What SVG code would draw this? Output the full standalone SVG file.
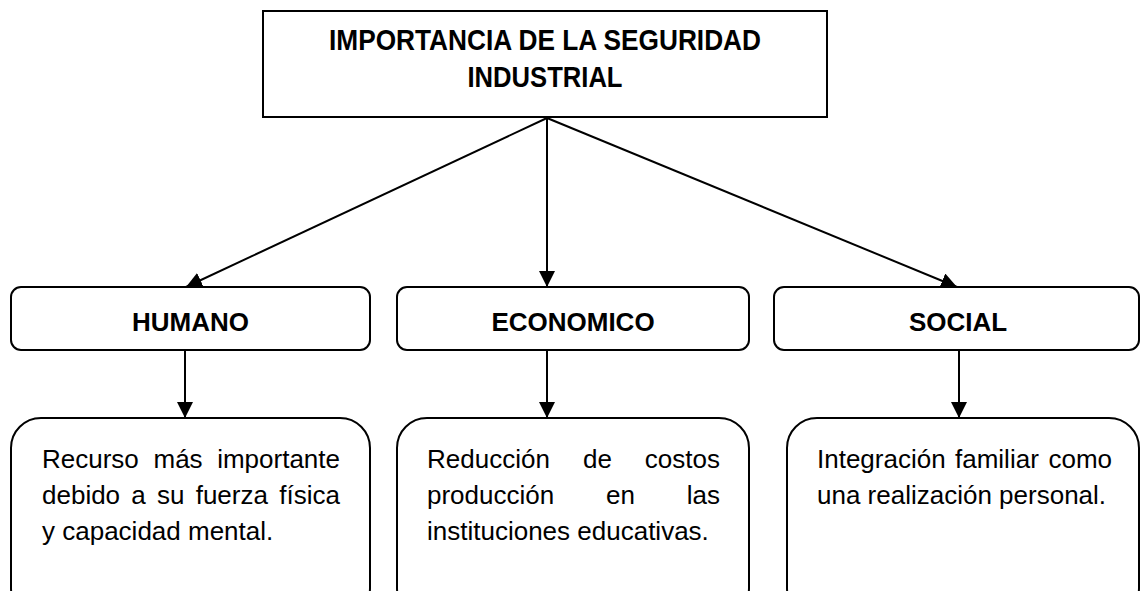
<svg xmlns="http://www.w3.org/2000/svg" width="1140" height="591" viewBox="0 0 1140 591">
<defs>
<marker id="arr" markerUnits="userSpaceOnUse" markerWidth="16" markerHeight="16" refX="16" refY="8" orient="auto" viewBox="0 0 16 16">
<path d="M0,0 L16,8 L0,16 z" fill="#000"/>
</marker>
</defs>
<style>
.box{fill:#fff;stroke:#000;stroke-width:2}
.h{font-family:"Liberation Sans",Arial,sans-serif;font-weight:bold;font-size:26px;fill:#000;text-anchor:middle}
.t{font-size:30px}
.b{font-family:"Liberation Sans",Arial,sans-serif;font-size:26px;fill:#000}
.e{text-anchor:end}
.c{fill:none;stroke:#000;stroke-width:2;marker-end:url(#arr)}
</style>
<rect width="1140" height="591" fill="#fff"/>
<g id="connectors">
<line class="c" x1="547" y1="118" x2="186" y2="287"/>
<line class="c" x1="547" y1="118" x2="547" y2="287"/>
<line class="c" x1="547" y1="118" x2="957" y2="287"/>
<line class="c" x1="185" y1="350" x2="185" y2="418"/>
<line class="c" x1="547" y1="350" x2="547" y2="418"/>
<line class="c" x1="959" y1="350" x2="959" y2="418"/>
</g>
<g id="top">
<rect class="box" x="263" y="11" width="564" height="106"/>
<text class="h t" x="545" y="50" textLength="432" lengthAdjust="spacingAndGlyphs">IMPORTANCIA DE LA SEGURIDAD</text>
<text class="h t" x="545" y="87" textLength="155" lengthAdjust="spacingAndGlyphs">INDUSTRIAL</text>
</g>
<g id="humano">
<rect class="box" x="11" y="287" width="359" height="63" rx="10"/>
<text class="h" x="190.5" y="331">HUMANO</text>
</g>
<g id="economico">
<rect class="box" x="397" y="287" width="352" height="63" rx="10"/>
<text class="h" x="573" y="331">ECONOMICO</text>
</g>
<g id="social">
<rect class="box" x="774" y="287" width="365" height="63" rx="10"/>
<text class="h" x="958" y="331">SOCIAL</text>
</g>
<g id="humano-desc">
<rect class="box" x="11" y="418" width="359" height="200" rx="30"/>
<text class="b" y="468"><tspan x="42">Recurso</tspan><tspan x="153.5">más</tspan></text>
<text class="b e" x="340" y="468">importante</text>
<text class="b" y="504"><tspan x="42">debido</tspan><tspan x="131.3">a</tspan><tspan x="157">su</tspan><tspan x="195.7">fuerza</tspan></text>
<text class="b e" x="340" y="504">física</text>
<text class="b" x="42" y="540">y capacidad mental.</text>
</g>
<g id="economico-desc">
<rect class="box" x="397" y="418" width="352" height="200" rx="30"/>
<text class="b" y="468"><tspan x="427">Reducción</tspan><tspan x="583">de</tspan></text>
<text class="b e" x="720" y="468">costos</text>
<text class="b" y="504"><tspan x="427">producción</tspan><tspan x="606">en</tspan></text>
<text class="b e" x="720" y="504">las</text>
<text class="b" x="427" y="540">instituciones educativas.</text>
</g>
<g id="social-desc">
<rect class="box" x="787" y="418" width="352" height="200" rx="30"/>
<text class="b" y="468"><tspan x="817">Integración</tspan><tspan x="955">familiar</tspan></text>
<text class="b e" x="1112" y="468">como</text>
<text class="b" x="817" y="504">una realización personal.</text>
</g>
</svg>
